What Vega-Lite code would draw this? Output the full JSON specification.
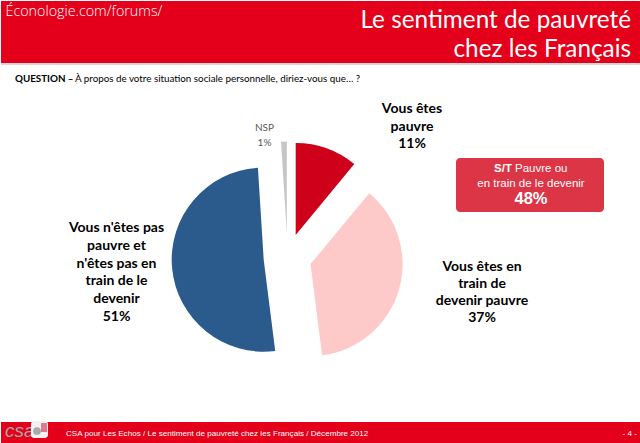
{
  "$schema": "https://vega.github.io/schema/vega-lite/v6.json",
  "width": 640,
  "height": 443,
  "autosize": {"type": "fit", "contains": "padding"},
  "padding": 0,
  "background": "white",
  "config": {"view": {"stroke": null}},
  "data": {
    "values": [
      {"category": "Vous êtes pauvre", "label": "Vous êtes\npauvre", "value": 11, "order": 1},
      {"category": "Vous êtes en train de devenir pauvre", "label": "Vous êtes en\ntrain de\ndevenir pauvre", "value": 37, "order": 2},
      {"category": "Vous n'êtes pas pauvre et n'êtes pas en train de le devenir", "label": "Vous n'êtes pas\npauvre et\nn'êtes pas en\ntrain de le\ndevenir", "value": 51, "order": 3},
      {"category": "NSP", "label": "NSP", "value": 1, "order": 4}
    ]
  },
  "layer": [
    {
      "data": {"values": [{}]},
      "mark": {"type": "rect", "color": "#e4001b", "x": 0, "x2": 640, "y": 0, "y2": 62},
      "encoding": {}
    },
    {
      "data": {"values": [{}]},
      "mark": {"type": "rect", "color": "#bdbdbd", "opacity": 0.6, "x": 0, "x2": 640, "y": 62, "y2": 64},
      "encoding": {}
    },
    {
      "data": {"values": [{}]},
      "mark": {"type": "rect", "color": "#e4001b", "x": 0, "x2": 640, "y": 421, "y2": 443},
      "encoding": {}
    },
    {
      "data": {"values": [{"t": "Éconologie.com/forums/"}]},
      "mark": {"type": "text", "font": "Open Sans", "fontWeight": 300, "fontSize": 14.3, "color": "white", "align": "left", "baseline": "alphabetic", "x": 4.5, "y": 15},
      "encoding": {"text": {"field": "t"}}
    },
    {
      "data": {"values": [{"t": "Le sentiment de pauvreté\nchez les Français"}]},
      "mark": {"type": "text", "font": "Lato", "fontSize": 24.3, "color": "white", "align": "right", "baseline": "alphabetic", "lineBreak": "\n", "x": 630, "y": 27, "lineHeight": 28.5},
      "encoding": {"text": {"field": "t"}}
    },
    {
      "data": {"values": [{"t": "QUESTION –"}]},
      "mark": {"type": "text", "font": "Lato", "fontWeight": "bold", "fontSize": 9.8, "color": "black", "align": "left", "baseline": "alphabetic", "x": 14, "y": 81},
      "encoding": {"text": {"field": "t"}}
    },
    {
      "data": {"values": [{"t": "À propos de votre situation sociale personnelle, diriez-vous que… ?"}]},
      "mark": {"type": "text", "font": "Lato", "fontSize": 9.8, "color": "black", "align": "left", "baseline": "alphabetic", "x": 74, "y": 81},
      "encoding": {"text": {"field": "t"}}
    },
    {
      "data": {"values": [{}]},
      "mark": {"type": "rect", "color": "#dc3546", "cornerRadius": 4, "x": 455, "x2": 603, "y": 157, "y2": 211},
      "encoding": {}
    },
    {
      "data": {"values": [{"t": "S/T"}]},
      "mark": {"type": "text", "font": "Liberation Sans", "fontWeight": "bold", "fontSize": 11.5, "color": "white", "align": "right", "baseline": "alphabetic", "x": 511, "y": 171},
      "encoding": {"text": {"field": "t"}}
    },
    {
      "data": {"values": [{"t": "Pauvre ou"}]},
      "mark": {"type": "text", "font": "Liberation Sans", "fontSize": 11.5, "color": "white", "align": "left", "baseline": "alphabetic", "x": 514, "y": 171},
      "encoding": {"text": {"field": "t"}}
    },
    {
      "data": {"values": [{"t": "en train de le devenir"}]},
      "mark": {"type": "text", "font": "Liberation Sans", "fontSize": 11.5, "color": "white", "align": "center", "baseline": "alphabetic", "x": 530, "y": 186},
      "encoding": {"text": {"field": "t"}}
    },
    {
      "data": {"values": [{}]},
      "mark": {"type": "rule", "color": "#404040", "strokeWidth": 0.8, "x": 326, "y": 147, "x2": 377, "y2": 114},
      "encoding": {}
    },
    {
      "data": {"values": [{}]},
      "mark": {"type": "rule", "color": "#404040", "strokeWidth": 0.8, "x": 398, "y": 287, "x2": 431, "y2": 307},
      "encoding": {}
    },
    {
      "data": {"values": [{}]},
      "mark": {"type": "rule", "color": "#404040", "strokeWidth": 0.8, "x": 431, "y": 307, "x2": 435, "y2": 307},
      "encoding": {}
    },
    {
      "data": {"values": [{}]},
      "mark": {"type": "rule", "color": "#404040", "strokeWidth": 0.8, "x": 156, "y": 269.5, "x2": 173, "y2": 269.5},
      "encoding": {}
    },
    {
      "transform": [
        {"stack": "value", "groupby": [], "as": ["v0", "v1"], "sort": [{"field": "order", "order": "ascending"}]},
        {"calculate": "PI * (datum.v0 + datum.v1) / 100", "as": "mid"},
        {"calculate": "sin(datum.mid)", "as": "ex"},
        {"calculate": "cos(datum.mid)", "as": "ey"},
        {"calculate": "datum.label + '\\n' + datum.value + '%'", "as": "txt"}
      ],
      "layer": [
        {
          "mark": {"type": "arc", "radius": 92},
          "encoding": {
            "theta": {"field": "v0", "type": "quantitative", "scale": {"domain": [0, 100]}},
            "theta2": {"field": "v1"},
            "x": {"field": "ex", "type": "quantitative", "scale": {"domain": [-11.958, 14.708], "nice": false, "zero": false}, "axis": null},
            "y": {"field": "ey", "type": "quantitative", "scale": {"domain": [-7.75, 10.708], "nice": false, "zero": false}, "axis": null},
            "color": {
              "field": "category",
              "type": "nominal",
              "scale": {
                "domain": ["Vous êtes pauvre", "Vous êtes en train de devenir pauvre", "Vous n'êtes pas pauvre et n'êtes pas en train de le devenir", "NSP"],
                "range": ["#cf0019", "#fdc9c9", "#2b5b8c", "#c6c6c6"]
              },
              "legend": null
            }
          }
        },
        {
          "transform": [{"filter": "datum.order == 1"}],
          "mark": {"type": "text", "font": "Lato", "fontWeight": "bold", "fontSize": 14, "color": "black", "align": "center", "baseline": "alphabetic", "lineBreak": "\n", "lineHeight": 17.5, "x": 411, "y": 112},
          "encoding": {"text": {"field": "txt"}}
        },
        {
          "transform": [{"filter": "datum.order == 2"}],
          "mark": {"type": "text", "font": "Lato", "fontWeight": "bold", "fontSize": 14, "color": "black", "align": "center", "baseline": "alphabetic", "lineBreak": "\n", "lineHeight": 17, "x": 481, "y": 270},
          "encoding": {"text": {"field": "txt"}}
        },
        {
          "transform": [{"filter": "datum.order == 3"}],
          "mark": {"type": "text", "font": "Lato", "fontWeight": "bold", "fontSize": 14, "color": "black", "align": "center", "baseline": "alphabetic", "lineBreak": "\n", "lineHeight": 17.8, "x": 115.5, "y": 231},
          "encoding": {"text": {"field": "txt"}}
        },
        {
          "transform": [{"filter": "datum.order == 4"}],
          "mark": {"type": "text", "font": "Lato", "fontSize": 10, "color": "#595959", "align": "center", "baseline": "alphabetic", "lineBreak": "\n", "lineHeight": 15, "x": 263.5, "y": 130},
          "encoding": {"text": {"field": "txt"}}
        },
        {
          "transform": [
            {"filter": "datum.order <= 2"},
            {"aggregate": [{"op": "sum", "field": "value", "as": "total"}]},
            {"calculate": "datum.total + '%'", "as": "t"}
          ],
          "mark": {"type": "text", "font": "Liberation Sans", "fontWeight": "bold", "fontSize": 16.5, "color": "white", "align": "center", "baseline": "alphabetic", "x": 530, "y": 203},
          "encoding": {"text": {"field": "t"}}
        }
      ]
    },
    {
      "data": {"values": [{"t": "csa"}]},
      "mark": {"type": "text", "font": "Liberation Sans", "fontStyle": "italic", "fontSize": 19, "color": "#a6a6a6", "align": "left", "baseline": "alphabetic", "x": 4, "y": 436},
      "encoding": {"text": {"field": "t"}}
    },
    {
      "data": {"values": [{}]},
      "mark": {"type": "rect", "color": "#f2f2f2", "cornerRadius": 3, "x": 30, "x2": 47, "y": 420, "y2": 437},
      "encoding": {}
    },
    {
      "data": {"values": [{}]},
      "mark": {"type": "point", "filled": true, "color": "#8c8c8c", "size": 60, "x": 36, "y": 430},
      "encoding": {}
    },
    {
      "data": {"values": [{}]},
      "mark": {"type": "rect", "color": "#e07a8a", "x": 40, "x2": 46, "y": 422, "y2": 431},
      "encoding": {}
    },
    {
      "data": {"values": [{"t": "CSA pour Les Echos / Le sentiment de pauvreté chez les Français / Décembre 2012"}]},
      "mark": {"type": "text", "font": "Liberation Sans", "fontSize": 8.1, "color": "white", "align": "left", "baseline": "alphabetic", "x": 65, "y": 435},
      "encoding": {"text": {"field": "t"}}
    },
    {
      "data": {"values": [{"t": "- 4 -"}]},
      "mark": {"type": "text", "font": "Liberation Sans", "fontSize": 8.1, "color": "white", "align": "right", "baseline": "alphabetic", "x": 636, "y": 435},
      "encoding": {"text": {"field": "t"}}
    }
  ]
}
